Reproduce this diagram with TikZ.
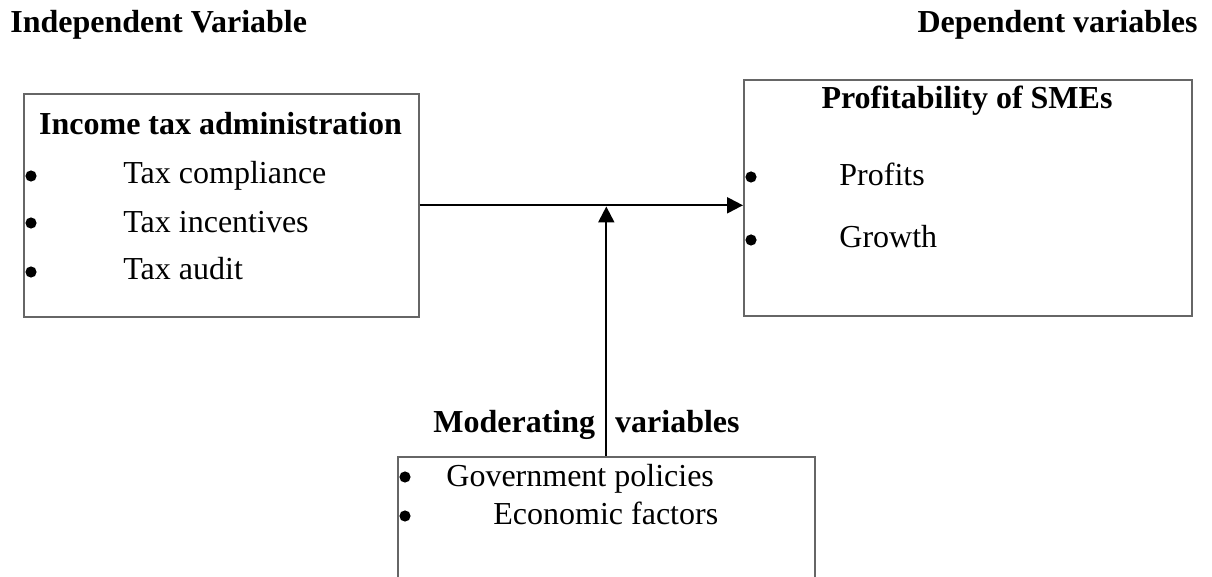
\documentclass[tikz,border=0pt]{standalone}
\usepackage{fontspec}
\setmainfont{Liberation Serif}
\usetikzlibrary{positioning,arrows.meta}

\begin{document}
\begin{tikzpicture}[x=0.5pt, y=-0.5pt, font=\fontsize{16}{19}\selectfont,
      >={Triangle[length=8pt,width=8pt]},
      box/.style={draw=black!60, line width=0.8pt, inner sep=0pt, anchor=north west},
      hd/.style={font=\fontsize{16}{19}\selectfont\bfseries, inner sep=0pt},
      item/.style={anchor=base west, inner sep=0pt},
      dot/.style={circle, fill=black, inner sep=0pt, minimum size=5.6pt},
      link/.style={->, line width=1.1pt}]
    \clip (0,0) rectangle (1212,577);
    % column headings
    \node[hd, anchor=base west] (indeptitle) at (10,33) {Independent Variable};
    \node[hd, anchor=base east] (deptitle) at (1198,33) {Dependent variables};
    % boxes
    \node[box, minimum width=197.5pt, minimum height=111.5pt] (indep) at (23,93) {};
    \node[box, minimum width=224pt, minimum height=118pt] (dep) at (743,79) {};
    \node[box, minimum width=208.5pt, minimum height=90pt] (mod) at (397,456) {};
    % independent variable
    \node[hd, anchor=base] (indephead) at (220.5,135) {Income tax administration};
    \node[dot] (b1) at (31,176) {};
    \node[dot] (b2) at (31,223) {};
    \node[dot] (b3) at (31,272) {};
    \node[item] (comp) at (123,184) {Tax compliance};
    \node[item] (incent) at (123,233) {Tax incentives};
    \node[item] (audit) at (123,280) {Tax audit};
    % dependent variable
    \node[hd, anchor=base] (dephead) at (967,109) {Profitability of SMEs};
    \node[dot] (b4) at (751,177) {};
    \node[dot] (b5) at (751,240) {};
    \node[item] (profits) at (839,186) {Profits};
    \node[item] (growth) at (839,248) {Growth};
    % moderating variables
    \node[hd, anchor=base west] (modhead) at (433,433) {Moderating\hspace{6pt} variables};
    \node[dot] (b6) at (405,477) {};
    \node[dot] (b7) at (405,516) {};
    \node[item] (gov) at (446,487) {Government policies};
    \node[item] (econ) at (493,525) {Economic factors};
    % connectors
    \coordinate (meet) at ([yshift=-0.6pt]mod.north |- indep.east);
    \draw[link] (indep.east) -- (indep.east -| dep.west);
    \draw[link] (mod.north) -- (meet);
\end{tikzpicture}
\end{document}
